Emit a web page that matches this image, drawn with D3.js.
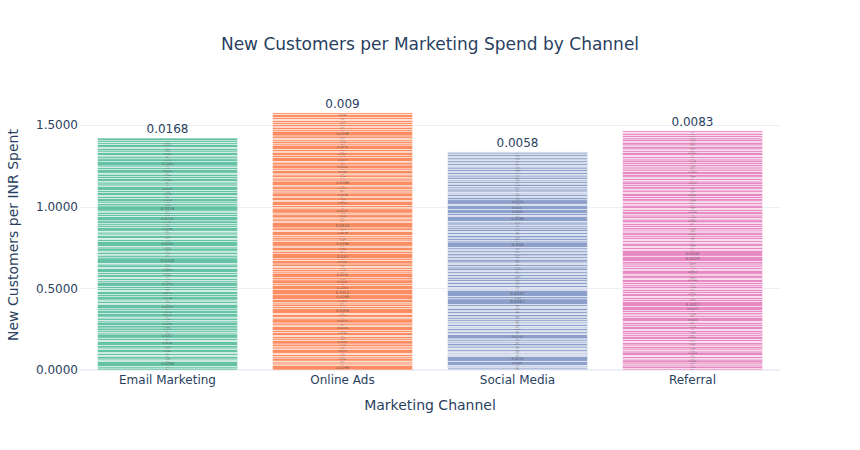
<!DOCTYPE html>
<html>
<head>
<meta charset="utf-8">
<script src="https://cdn.jsdelivr.net/npm/d3@7"></script>
<style>
  html, body { margin: 0; padding: 0; background: #fff; }
  svg { display: block; font-family: "DejaVu Sans", Verdana, sans-serif; }
</style>
</head>
<body>
<svg id="chart" width="860" height="450"></svg>
<script>
// ---- data (bottom-to-top segments of each stacked bar) ----
const categories = ["Email Marketing", "Online Ads", "Social Media", "Referral"];
const colors = ["#66c2a5", "#fc8d62", "#8da0cb", "#e78ac3"];

const emailMarketing = [
  0.0121, 0.0089, 0.0298, 0.0065, 0.0102, 0.0143, 0.0076, 0.0118, 0.0054, 0.0187,
  0.0095, 0.0163, 0.0241, 0.0071, 0.0129, 0.0257, 0.0108, 0.0084, 0.0172, 0.0136,
  0.0231, 0.0093, 0.0149, 0.0062, 0.0211, 0.0176, 0.0115, 0.0252, 0.0081, 0.0139,
  0.0067, 0.0198, 0.0124, 0.0213, 0.0058, 0.0106, 0.0147, 0.0254, 0.0091, 0.0132,
  0.0075, 0.0181, 0.0112, 0.0234, 0.0069, 0.0157, 0.0098, 0.0332, 0.0126, 0.0083,
  0.0145, 0.0061, 0.0192, 0.0104, 0.0282, 0.0135, 0.0072, 0.0166, 0.0097, 0.0119,
  0.0053, 0.0228, 0.0141, 0.0087, 0.0174, 0.0274, 0.0109, 0.0151, 0.0066, 0.0318,
  0.0156, 0.0088, 0.0203, 0.0112, 0.0069, 0.0178, 0.0134, 0.0245, 0.0095, 0.0127,
  0.0073, 0.0189, 0.0114, 0.0162, 0.0059, 0.0221, 0.0131, 0.0086, 0.0264, 0.0173,
  0.0123, 0.0079, 0.0185, 0.0101, 0.0138, 0.0064, 0.0207, 0.0116, 0.0092, 0.0168
];
const onlineAds = [
  0.0298, 0.0074, 0.0121, 0.0056, 0.0183, 0.0092, 0.0137, 0.0068, 0.0215, 0.0105,
  0.0078, 0.0164, 0.0231, 0.0087, 0.0142, 0.0061, 0.0196, 0.0113, 0.0249, 0.0082,
  0.0127, 0.0251, 0.0094, 0.0176, 0.0065, 0.0306, 0.0118, 0.0152, 0.0071, 0.0203,
  0.0288, 0.0312, 0.0264, 0.0099, 0.0241, 0.0135, 0.0282, 0.0077, 0.0158, 0.0109,
  0.0066, 0.0147, 0.0226, 0.0089, 0.0310, 0.0124, 0.0058, 0.0185, 0.0103, 0.0296,
  0.0081, 0.0169, 0.0112, 0.0238, 0.0072, 0.0144, 0.0322, 0.0095, 0.0131, 0.0063,
  0.0192, 0.0108, 0.0255, 0.0076, 0.0139, 0.0218, 0.0086, 0.0161, 0.0057, 0.0238,
  0.0117, 0.0084, 0.0173, 0.0069, 0.0288, 0.0126, 0.0093, 0.0154, 0.0062, 0.0209,
  0.0098, 0.0241, 0.0133, 0.0075, 0.0237, 0.0116, 0.0187, 0.0064, 0.0145, 0.0259,
  0.0079, 0.0166, 0.0107, 0.0072, 0.0134, 0.0298, 0.0088, 0.0121, 0.0061, 0.0152,
  0.0095, 0.0138, 0.0067, 0.0113, 0.0188, 0.0090
];
const socialMedia = [
  0.0064, 0.0081, 0.0052, 0.0097, 0.0245, 0.0278, 0.0071, 0.0059, 0.0088, 0.0043,
  0.0076, 0.0112, 0.0055, 0.0093, 0.0067, 0.0128, 0.0049, 0.0084, 0.0102, 0.0061,
  0.0282, 0.0073, 0.0095, 0.0058, 0.0136, 0.0079, 0.0047, 0.0109, 0.0066, 0.0091,
  0.0054, 0.0118, 0.0083, 0.0062, 0.0147, 0.0072, 0.0099, 0.0051, 0.0124, 0.0086,
  0.0069, 0.0105, 0.0347, 0.0158, 0.0337, 0.0063, 0.0092, 0.0048, 0.0115, 0.0077,
  0.0132, 0.0056, 0.0089, 0.0121, 0.0068, 0.0143, 0.0074, 0.0101, 0.0052, 0.0163,
  0.0085, 0.0127, 0.0060, 0.0094, 0.0139, 0.0071, 0.0108, 0.0057, 0.0151, 0.0082,
  0.0117, 0.0065, 0.0098, 0.0340, 0.0078, 0.0119, 0.0053, 0.0135, 0.0087, 0.0104,
  0.0062, 0.0149, 0.0081, 0.0113, 0.0058, 0.0126, 0.0094, 0.0288, 0.0072, 0.0106,
  0.0256, 0.0241, 0.0088, 0.0269, 0.0133, 0.0067, 0.0112, 0.0054, 0.0096, 0.0079,
  0.0121, 0.0063, 0.0095, 0.0142, 0.0057, 0.0086, 0.0108, 0.0049, 0.0131, 0.0074,
  0.0092, 0.0115, 0.0061, 0.0138, 0.0083, 0.0104, 0.0052, 0.0127, 0.0071, 0.0097,
  0.0086, 0.0112, 0.0069, 0.0124, 0.0074, 0.0058
];
const referral = [
  0.0094, 0.0152, 0.0071, 0.0118, 0.0186, 0.0083, 0.0137, 0.0062, 0.0204, 0.0109,
  0.0076, 0.0143, 0.0098, 0.0167, 0.0058, 0.0125, 0.0191, 0.0087, 0.0113, 0.0149,
  0.0068, 0.0174, 0.0102, 0.0131, 0.0079, 0.0223, 0.0115, 0.0064, 0.0158, 0.0092,
  0.0253, 0.0317, 0.0106, 0.0139, 0.0072, 0.0181, 0.0097, 0.0124, 0.0061, 0.0162,
  0.0085, 0.0128, 0.0196, 0.0074, 0.0145, 0.0103, 0.0212, 0.0067, 0.0134, 0.0091,
  0.0117, 0.0154, 0.0324, 0.0332, 0.0081, 0.0126, 0.0069, 0.0148, 0.0095, 0.0112,
  0.0063, 0.0137, 0.0089, 0.0176, 0.0108, 0.0072, 0.0159, 0.0094, 0.0121, 0.0057,
  0.0183, 0.0099, 0.0141, 0.0078, 0.0206, 0.0116, 0.0066, 0.0152, 0.0088, 0.0129,
  0.0073, 0.0164, 0.0105, 0.0192, 0.0084, 0.0133, 0.0061, 0.0147, 0.0112, 0.0178,
  0.0096, 0.0127, 0.0069, 0.0154, 0.0201, 0.0087, 0.0119, 0.0074, 0.0143, 0.0105,
  0.0168, 0.0092, 0.0131, 0.0064, 0.0187, 0.0115, 0.0078, 0.0146, 0.0101, 0.0139,
  0.0071, 0.0158, 0.0109, 0.0124, 0.0093, 0.0089, 0.0083
];
const seriesValues = [emailMarketing, onlineAds, socialMedia, referral];
const yTicks = [0, 0.5, 1.0, 1.5];

// ---- layout ----
const svg = d3.select("#chart");
const W = 860, H = 450;
const margin = { left: 80, right: 80, top: 100, bottom: 80 };
const plotW = W - margin.left - margin.right;
const plotH = H - margin.top - margin.bottom;
const textColor = "#2a3f5f";
const gridColor = "#ebf0f8";

const x = d3.scaleBand().domain(categories).range([margin.left, margin.left + plotW]).paddingInner(0.2).paddingOuter(0.1);
const y = d3.scaleLinear().domain([0, 1.653]).range([margin.top + plotH, margin.top]);

// grid
svg.append("g").selectAll("line").data(yTicks.filter(t => t > 0)).join("line")
  .attr("x1", margin.left).attr("x2", margin.left + plotW)
  .attr("y1", d => Math.round(y(d)) + 0.5).attr("y2", d => Math.round(y(d)) + 0.5)
  .attr("stroke", gridColor).attr("stroke-width", 1);
// zero line
svg.append("line")
  .attr("x1", margin.left).attr("x2", margin.left + plotW)
  .attr("y1", y(0)).attr("y2", y(0))
  .attr("stroke", gridColor).attr("stroke-width", 2);

// bars
const fmt = v => String(+v.toFixed(4));
categories.forEach((cat, i) => {
  const vals = seriesValues[i];
  let cum = 0;
  const segs = vals.map(v => { const s = { y0: cum, y1: cum + v, v }; cum += v; return s; });
  const g = svg.append("g");
  g.selectAll("rect").data(segs).join("rect")
    .attr("x", x(cat)).attr("width", x.bandwidth())
    .attr("y", d => y(d.y1)).attr("height", d => Math.max(y(d.y0) - y(d.y1), 0.5))
    .attr("fill", colors[i])
    .attr("stroke", "#ffffff").attr("stroke-width", 0.5);
  // inside texts (all except the top one)
  g.selectAll("text.in").data(segs.slice(0, -1)).join("text")
    .attr("class", "in")
    .attr("x", x(cat) + x.bandwidth() / 2)
    .attr("y", d => (y(d.y0) + y(d.y1)) / 2)
    .attr("text-anchor", "middle").attr("dominant-baseline", "central")
    .attr("font-size", d => Math.max((y(d.y0) - y(d.y1)) * 0.75, 1).toFixed(2) + "px")
    .attr("fill", "#444").attr("fill-opacity", 0.8)
    .text(d => fmt(d.v));
  // outside text on top
  const top = segs[segs.length - 1];
  g.append("text")
    .attr("x", x(cat) + x.bandwidth() / 2)
    .attr("y", y(top.y1) - 5)
    .attr("text-anchor", "middle")
    .attr("font-size", "12px").attr("fill", textColor)
    .text(fmt(top.v));
});

// y axis labels
svg.append("g").selectAll("text").data(yTicks).join("text")
  .attr("x", margin.left - 2).attr("y", d => y(d))
  .attr("dy", "0.35em").attr("text-anchor", "end")
  .attr("font-size", "12px").attr("fill", textColor)
  .text(d => d3.format(".4f")(d));

// x axis labels
svg.append("g").selectAll("text").data(categories).join("text")
  .attr("x", d => x(d) + x.bandwidth() / 2).attr("y", margin.top + plotH + 14)
  .attr("text-anchor", "middle")
  .attr("font-size", "12px").attr("fill", textColor)
  .text(d => d);

// axis titles
svg.append("text")
  .attr("x", margin.left + plotW / 2).attr("y", margin.top + plotH + 40)
  .attr("text-anchor", "middle").attr("font-size", "14px").attr("fill", textColor)
  .text("Marketing Channel");
svg.append("text")
  .attr("transform", `translate(18,${margin.top + plotH / 2}) rotate(-90)`)
  .attr("text-anchor", "middle").attr("font-size", "14px").attr("fill", textColor)
  .text("New Customers per INR Spent");

// title
svg.append("text")
  .attr("x", W / 2).attr("y", 50)
  .attr("text-anchor", "middle").attr("font-size", "17px").attr("fill", textColor)
  .text("New Customers per Marketing Spend by Channel");
</script>
</body>
</html>
